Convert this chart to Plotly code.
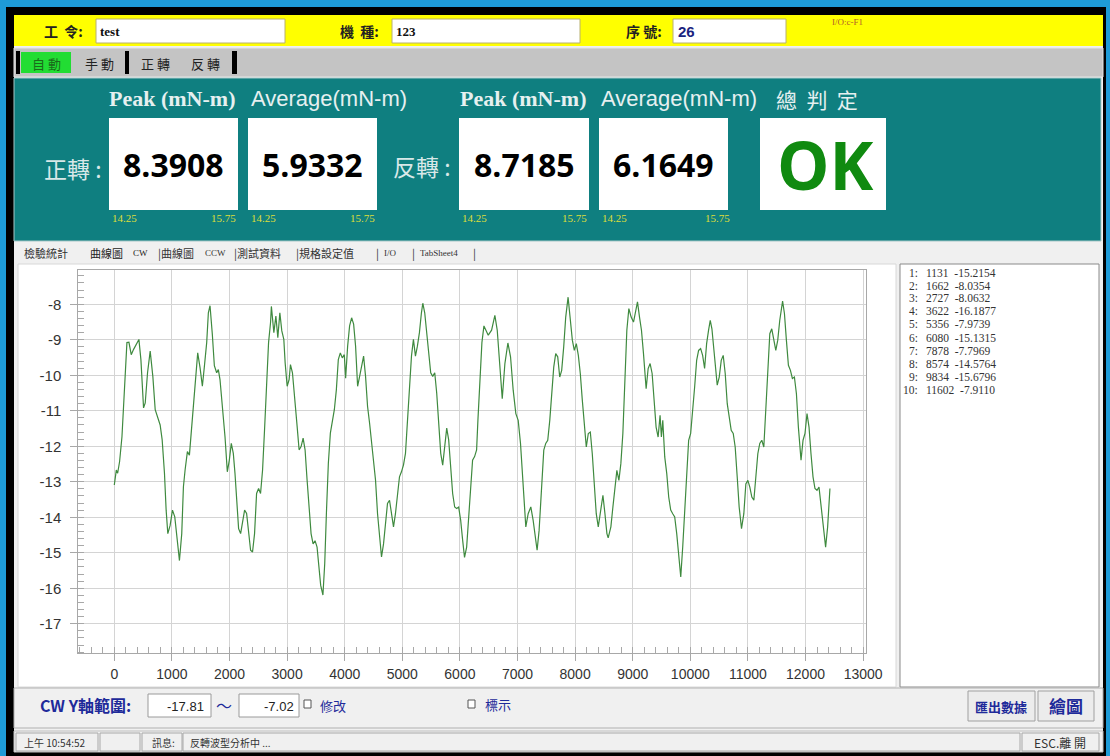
import plotly.graph_objects as go

W, H = 1110, 756

# ---------------- data ----------------
sample_index = [
    0, 35, 58, 92, 133, 173, 219, 254, 294, 335, 381, 427, 462, 508, 537, 577, 623, 669, 710, 750,
    796, 831, 871, 900, 929, 969, 1010, 1050, 1096, 1131, 1171, 1200, 1229, 1269, 1304, 1344, 1391, 1448, 1489, 1529,
    1564, 1604, 1633, 1662, 1702, 1737, 1777, 1806, 1835, 1881, 1922, 1962, 1997, 2031, 2066, 2095, 2124, 2158, 2193, 2227,
    2262, 2297, 2331, 2366, 2400, 2435, 2470, 2505, 2539, 2574, 2608, 2643, 2678, 2712, 2727, 2770, 2805, 2839, 2874, 2908,
    2943, 2966, 3001, 3035, 3058, 3093, 3128, 3174, 3208, 3243, 3278, 3312, 3347, 3381, 3416, 3451, 3485, 3520, 3555, 3583,
    3622, 3653, 3682, 3716, 3751, 3785, 3820, 3855, 3889, 3924, 3958, 3993, 4016, 4051, 4085, 4120, 4155, 4189, 4224, 4259,
    4293, 4328, 4362, 4397, 4432, 4466, 4501, 4535, 4570, 4605, 4639, 4674, 4709, 4743, 4778, 4812, 4847, 4881, 4916, 4951,
    4985, 5020, 5055, 5089, 5124, 5159, 5193, 5228, 5262, 5297, 5332, 5356, 5389, 5424, 5459, 5493, 5528, 5563, 5597, 5632,
    5667, 5701, 5736, 5771, 5805, 5840, 5874, 5909, 5944, 5978, 6013, 6048, 6080, 6117, 6151, 6186, 6220, 6255, 6290, 6313,
    6347, 6382, 6417, 6492, 6550, 6607, 6648, 6694, 6735, 6781, 6833, 6879, 6925, 6971, 7012, 7052, 7098, 7144, 7185, 7231,
    7271, 7306, 7340, 7375, 7415, 7456, 7490, 7525, 7560, 7594, 7629, 7663, 7698, 7733, 7767, 7802, 7837, 7878, 7917, 7952,
    7986, 8021, 8056, 8090, 8125, 8160, 8194, 8229, 8264, 8298, 8333, 8367, 8402, 8437, 8483, 8518, 8552, 8574, 8621, 8656,
    8691, 8725, 8760, 8794, 8829, 8864, 8898, 8933, 8973, 9014, 9048, 9083, 9118, 9152, 9187, 9233, 9268, 9302, 9337, 9371,
    9406, 9441, 9475, 9498, 9522, 9556, 9591, 9625, 9660, 9695, 9729, 9764, 9798, 9834, 9868, 9902, 9937, 9971, 10006, 10041,
    10075, 10110, 10144, 10179, 10214, 10248, 10283, 10317, 10346, 10375, 10410, 10444, 10467, 10502, 10537, 10571, 10606, 10641, 10675, 10710,
    10745, 10779, 10814, 10848, 10889, 10929, 10964, 10999, 11033, 11068, 11103, 11137, 11172, 11206, 11241, 11276, 11310, 11345, 11380, 11414,
    11449, 11484, 11518, 11553, 11602, 11634, 11668, 11703, 11738, 11772, 11807, 11842, 11876, 11922, 11957, 11991, 12026, 12061, 12095, 12130,
    12164, 12199, 12234, 12268, 12303, 12349, 12384, 12407, 12424,
]
torque_cw = [
    -13.09, -12.67, -12.76, -12.43, -11.73, -10.40, -9.08, -9.07, -9.42, -9.27, -9.13, -8.99, -9.56, -10.92, -10.78, -9.93, -9.32, -10.03, -10.97, -11.16,
    -11.40, -11.82, -12.76, -13.80, -14.46, -14.23, -13.80, -13.99, -14.65, -15.22, -14.46, -13.14, -12.67, -12.15, -12.25, -11.44, -10.41, -9.37, -9.79, -10.31,
    -9.75, -9.08, -8.24, -8.04, -8.85, -9.73, -9.93, -9.84, -10.12, -10.88, -11.73, -12.72, -12.39, -11.92, -12.20, -12.76, -13.42, -14.32, -14.46, -14.08,
    -13.80, -13.89, -14.46, -14.93, -14.98, -14.46, -13.33, -13.19, -13.33, -12.67, -11.54, -10.12, -9.08, -8.52, -8.06, -8.80, -8.33, -8.94, -8.24, -8.75,
    -8.99, -9.65, -10.31, -10.12, -9.70, -9.93, -10.69, -11.44, -12.10, -12.01, -11.77, -12.10, -12.95, -13.71, -14.46, -14.75, -14.66, -14.84, -15.41, -15.92,
    -16.19, -15.31, -13.90, -12.48, -11.63, -11.25, -10.97, -10.41, -9.56, -9.37, -9.51, -9.42, -10.08, -9.18, -8.61, -8.38, -8.56, -9.18, -10.31, -10.03,
    -9.75, -9.46, -10.03, -10.88, -11.35, -11.92, -12.29, -12.95, -13.90, -14.65, -15.12, -14.75, -14.08, -13.61, -13.52, -13.90, -14.27, -13.90, -13.33, -12.86,
    -12.72, -12.53, -12.20, -11.25, -10.12, -9.46, -8.99, -9.46, -9.18, -8.80, -8.24, -7.97, -8.24, -8.80, -9.56, -9.93, -10.03, -9.93, -10.50, -11.35,
    -12.20, -12.53, -11.92, -11.49, -11.82, -12.67, -13.33, -13.71, -13.75, -13.71, -14.08, -14.65, -15.13, -14.84, -13.99, -12.95, -12.39, -12.29, -12.10, -11.25,
    -10.12, -9.08, -8.61, -8.87, -8.73, -8.31, -8.73, -9.77, -10.66, -9.67, -9.09, -9.48, -10.42, -11.08, -11.27, -11.92, -12.96, -14.27, -13.90, -13.71,
    -14.08, -14.55, -14.93, -14.37, -13.15, -12.11, -11.92, -11.83, -11.27, -10.52, -9.77, -9.39, -9.48, -10.05, -9.86, -9.20, -8.36, -7.80, -8.36, -9.01,
    -9.30, -9.11, -9.44, -9.95, -10.70, -11.36, -12.02, -11.64, -11.60, -12.21, -12.96, -13.90, -14.27, -13.90, -13.38, -13.90, -14.46, -14.58, -14.27, -13.71,
    -13.15, -12.68, -12.96, -12.49, -11.64, -10.14, -8.73, -8.12, -8.36, -8.50, -8.17, -7.93, -8.36, -8.73, -9.39, -10.38, -9.81, -9.67, -9.95, -10.80,
    -11.46, -11.74, -11.13, -11.74, -11.27, -12.30, -12.77, -13.43, -13.80, -13.90, -13.99, -14.46, -15.02, -15.68, -14.84, -13.71, -12.58, -11.83, -11.64, -11.08,
    -10.33, -9.58, -9.30, -9.25, -9.44, -9.81, -9.11, -8.73, -8.45, -8.69, -9.30, -9.77, -10.28, -10.05, -9.58, -9.44, -9.95, -10.80, -11.17, -11.55,
    -11.64, -12.02, -12.86, -13.71, -14.32, -13.90, -13.06, -12.96, -13.15, -13.43, -13.52, -12.86, -12.21, -11.92, -11.83, -12.02, -11.08, -9.86, -8.83, -8.69,
    -9.01, -9.30, -9.01, -8.45, -7.91, -8.26, -9.01, -9.72, -9.86, -10.09, -10.05, -10.52, -11.46, -12.39, -11.83, -11.64, -11.08, -11.46, -12.21, -12.86,
    -13.19, -13.24, -13.15, -13.71, -14.27, -14.84, -14.27, -13.52, -13.19,
]

x_ticks = list(range(0, 14000, 1000))
x_tick_labels = [str(v) for v in x_ticks]
y_ticks = list(range(-17, -7))
y_tick_labels = [str(v) for v in y_ticks]
y_range = [-17.81, -7.02]
x_range = [-625, 13050]

peak_no = list(range(1, 11))
peak_pos = [1131, 1662, 2727, 3622, 5356, 6080, 7878, 8574, 9834, 11602]
peak_val = [-15.2154, -8.0354, -8.0632, -16.1877, -7.9739, -15.1315, -7.7969, -14.5764, -15.6796, -7.9110]

header_values = ["test", "123", "26"]
result_values = ["8.3908", "5.9332", "8.7185", "6.1649"]
limit_low, limit_high = "14.25", "15.75"

# ---------------- helpers ----------------
def X(px):
    return px / W

def Y(py):
    return 1 - py / H

shapes = []
annotations = []

def rect(x0, y0, x1, y1, fill, line=None, lw=0, layer="below"):
    shapes.append(dict(type="rect", xref="paper", yref="paper",
                       x0=X(x0), x1=X(x1), y0=Y(y1), y1=Y(y0),
                       fillcolor=fill, line=dict(color=line if line else fill, width=lw),
                       layer=layer))

def txt(px, py, s, size, color="#000000", family="Liberation Sans", anchor="left"):
    annotations.append(dict(x=X(px), y=Y(py), xref="paper", yref="paper", text=s,
                            showarrow=False, xanchor=anchor, yanchor="middle",
                            font=dict(size=size, color=color, family=family)))

CJK = "Noto Sans CJK TC"
SERIF = "Liberation Serif"
SANS = "Liberation Sans"

# ---------------- frame ----------------
rect(6, 7, 1106, 756, "#000000")
rect(14, 15, 1103, 752, "#f0f0f0")

# yellow header
rect(14, 15, 1103, 46, "#ffff00")
rect(96, 19, 285, 43, "#ffffff", "#b8b070", 1)
rect(392, 19, 580, 43, "#ffffff", "#b8b070", 1)
rect(673, 19, 786, 43, "#ffffff", "#b8b070", 1)
txt(42, 31, "<b>工&nbsp;&nbsp;令:</b>", 14, "#222222", CJK)
txt(338, 31, "<b>機&nbsp;&nbsp;種:</b>", 14, "#222222", CJK)
txt(624, 31, "<b>序&nbsp;號:</b>", 14, "#222222", CJK)
txt(98, 31, "<b>" + header_values[0] + "</b>", 13, "#111111", SERIF)
txt(394, 31, "<b>" + header_values[1] + "</b>", 13, "#111111", SERIF)
txt(676, 31, "<b>" + header_values[2] + "</b>", 15, "#1a237e", SANS)
txt(830, 22, "I/O:c-F1", 9, "#b0602a", SERIF)

# toolbar
rect(14, 48, 1103, 77, "#c4c4c4", "#e6e6e6", 1)
rect(16, 51, 20, 74, "#000000")
rect(125, 51, 129, 74, "#000000")
rect(232, 51, 237, 74, "#000000")
rect(21, 52, 71, 73, "#22dd33")
txt(46, 63, "自&nbsp;動", 13, "#1a6a1a", CJK, "center")
txt(99, 63, "手&nbsp;動", 13, "#222222", CJK, "center")
txt(155, 63, "正&nbsp;轉", 13, "#222222", CJK, "center")
txt(205, 63, "反&nbsp;轉", 13, "#222222", CJK, "center")

# teal result panel
rect(14, 78, 1101, 241, "#0f7f80", "#a8c8c8", 1)
label_color = "#e6f0f0"
txt(107, 99, "<b>Peak (mN-m)</b>", 22, label_color, SERIF)
txt(249, 99, "Average(mN-m)", 22, label_color, SANS)
txt(458, 99, "<b>Peak (mN-m)</b>", 22, label_color, SERIF)
txt(599, 99, "Average(mN-m)", 22, label_color, SANS)
txt(774, 99, "總&nbsp;&nbsp;判&nbsp;&nbsp;定", 21, label_color, CJK)
txt(42, 168, "正轉 :", 23, "#d8e8e8", CJK)
txt(391, 166, "反轉 :", 23, "#d8e8e8", CJK)

boxes = [(109, 238), (248, 377), (459, 589), (599, 728)]
for (bx0, bx1), val in zip(boxes, result_values):
    rect(bx0, 118, bx1, 210, "#ffffff")
    txt((bx0 + bx1) / 2, 164, "<b>" + val + "</b>", 32, "#000000", "Open Sans", "center")
    txt(bx0 + 1, 218, limit_low, 11, "#dede3a", SERIF)
    txt(bx1 + (4 if bx1 == 728 else 0), 218, limit_high, 11, "#dede3a", SERIF, "right")
rect(760, 118, 886, 210, "#ffffff")
txt(825, 164, "<b>OK</b>", 66, "#108a10", "Open Sans", "center")

# tabs
txt(22, 253, "檢驗統計", 11, "#333333", CJK)
txt(88, 253, "曲線圖", 11, "#222222", CJK)
txt(131, 253, "CW", 9, "#222222", SERIF)
txt(156, 253, "|曲線圖", 11, "#333333", CJK)
txt(203, 253, "CCW", 9, "#333333", SERIF)
txt(232, 253, "|測試資料", 11, "#333333", CJK)
txt(294, 253, "|規格設定值", 11, "#333333", CJK)
txt(374, 253, "|", 11, "#333333", CJK)
txt(382, 253, "I/O", 9, "#333333", SERIF)
txt(410, 253, "|", 11, "#333333", CJK)
txt(418, 253, "TabSheet4", 9, "#333333", SERIF)
txt(471, 253, "|", 11, "#333333", CJK)

# chart panel and list box
rect(18, 264, 896, 687, "#ffffff", "#d8d8d8", 1)
rect(900, 264, 1099, 687, "#ffffff", "#8a8a8a", 1)
for n, p, v, i in zip(peak_no, peak_pos, peak_val, range(10)):
    yy = 272.5 + i * 13.0
    txt(920, yy, f"{n}:", 11.5, "#333333", SERIF, "right")
    txt(924, yy, f"{p}&nbsp;&nbsp;{v:.4f}", 11.5, "#333333", SERIF)

# bottom control panel
rect(14, 688, 1103, 728, "#f0f0f0", "#b0b0b0", 1)
txt(38, 705, "<b>CW Y軸範圍:</b>", 16, "#1e2a9a", CJK)
rect(148, 694, 211, 717, "#ffffff", "#9a9a9a", 1)
rect(239, 694, 299, 717, "#ffffff", "#9a9a9a", 1)
txt(206, 706, str(y_range[0]), 13, "#222222", SANS, "right")
txt(296, 706, str(y_range[1]), 13, "#222222", SANS, "right")
txt(224, 705, "～", 16, "#1e2a9a", CJK, "center")
rect(304, 700, 311, 708, "#ffffff", "#555555", 1)
txt(318, 705, "修改", 13, "#1e2a9a", CJK)
rect(468, 700, 475, 708, "#ffffff", "#555555", 1)
txt(483, 704, "標示", 13, "#1e2a9a", CJK)
rect(968, 691, 1035, 721, "#ececec", "#a0a0a0", 1)
txt(1001, 706, "<b>匯出數據</b>", 13, "#1e2a9a", CJK, "center")
rect(1038, 691, 1094, 721, "#ececec", "#a0a0a0", 1)
txt(1066, 705, "<b>繪圖</b>", 17, "#1e2a9a", CJK, "center")

# status bar
rect(14, 731, 1103, 752, "#f0f0f0", "#c0c0c0", 1)
for sx0, sx1 in [(16, 98), (100, 140), (142, 182), (183, 1020), (1022, 1099)]:
    rect(sx0, 733, sx1, 751, "#f0f0f0", "#a8a8a8", 1)
txt(22, 742, "上午 10:54:52", 10, "#333333", CJK)
txt(150, 742, "訊息:", 10, "#333333", CJK)
txt(188, 742, "反轉波型分析中 ...", 10, "#333333", CJK)
txt(1060, 742, "ESC.離&nbsp;開", 12, "#333333", CJK, "center")

# ---------------- figure ----------------
fig = go.Figure()
fig.add_trace(go.Scatter(x=sample_index, y=torque_cw, mode="lines",
                         line=dict(color="#3f8a3f", width=1.2), hoverinfo="x+y",
                         showlegend=False))

axis_common = dict(showgrid=True, gridcolor="#d4d4d4", gridwidth=1, automargin=False,
                   showline=True, linecolor="#a8a8a8", linewidth=1, mirror=True,
                   ticks="outside", ticklen=7, tickcolor="#a8a8a8", zeroline=False,
                   tickfont=dict(family=SANS, size=14, color="#333333"))

fig.update_layout(
    width=W, height=H, autosize=False,
    margin=dict(l=0, r=0, t=0, b=0, pad=0, autoexpand=False),
    paper_bgcolor="#1e9bd7",
    plot_bgcolor="#ffffff",
    showlegend=False,
    shapes=shapes,
    annotations=annotations,
    xaxis=dict(domain=[X(78.3), X(866)], range=x_range,
               tickvals=x_ticks, ticktext=x_tick_labels,
               minor=dict(ticks="inside", ticklen=6, dtick=200, tickcolor="#a8a8a8", showgrid=False),
               ticklabelstandoff=2, **axis_common),
    yaxis=dict(domain=[Y(652.5), Y(269.5)], range=y_range,
               tickvals=y_ticks, ticktext=y_tick_labels,
               minor=dict(ticks="inside", ticklen=6, dtick=0.2, tickcolor="#a8a8a8", showgrid=False),
               ticklabelstandoff=6, **axis_common),
)
fig.update_yaxes(tickfont=dict(size=15))

post = ("document.documentElement.style.overflow='hidden';"
        "document.body.style.margin='0';document.body.style.overflow='hidden';")

fig.write_html("out.html", config={"displayModeBar": False},
               post_script=post)
